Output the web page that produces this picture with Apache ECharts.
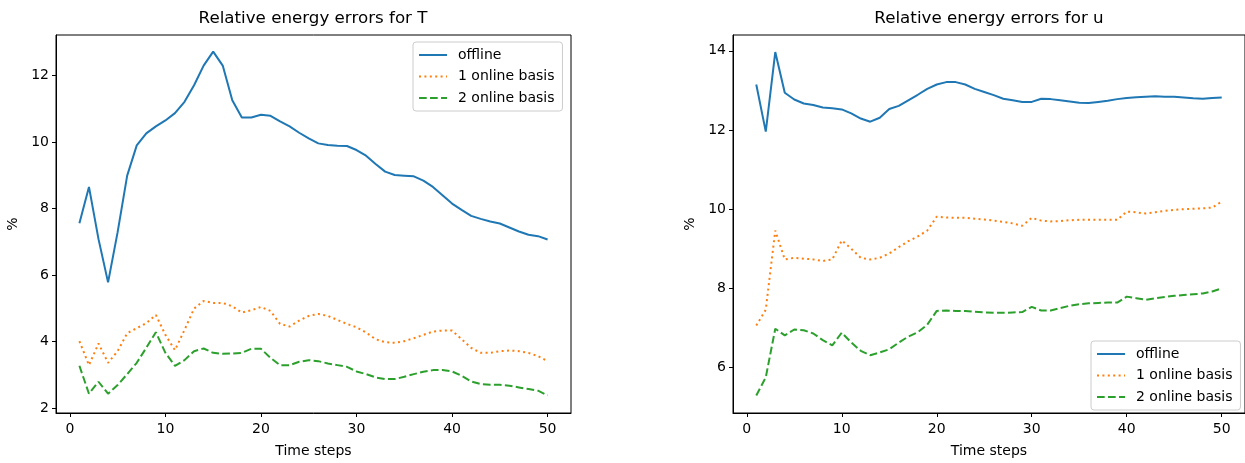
<!DOCTYPE html>
<html>
<head>
<meta charset="utf-8">
<script src="https://cdn.jsdelivr.net/npm/echarts@6/dist/echarts.min.js"></script>
<style>
  html, body { margin: 0; padding: 0; background: #fff; }
  #chart { width: 1245px; height: 463px; }
</style>
</head>
<body>
<div id="chart"></div>
<script>
const steps = [1,2,3,4,5,6,7,8,9,10,11,12,13,14,15,16,17,18,19,20,21,22,23,24,25,26,27,28,29,30,31,32,33,34,35,36,37,38,39,40,41,42,43,44,45,46,47,48,49,50];
const xTicks = [0, 10, 20, 30, 40, 50];
const yTicksT = [2, 4, 6, 8, 10, 12];
const yTicksU = [6, 8, 10, 12, 14];
const seriesNames = ['offline', '1 online basis', '2 online basis'];

const offlineT = [7.56,8.65,7.08,5.78,7.29,8.99,9.90,10.26,10.47,10.65, 10.87,11.21,11.71,12.30,12.72,12.30,11.26,10.74,10.74,10.82, 10.79,10.62,10.47,10.28,10.11,9.96,9.91,9.89,9.88,9.76, 9.59,9.34,9.11,9.01,8.99,8.97,8.84,8.65,8.40,8.15, 7.96,7.78,7.69,7.61,7.55,7.43,7.31,7.21,7.17,7.07];
const online1T = [4.01,3.29,3.94,3.36,3.71,4.25,4.40,4.55,4.80,4.20, 3.74,4.35,4.99,5.22,5.16,5.16,5.06,4.87,4.94,5.04, 4.92,4.53,4.45,4.63,4.77,4.83,4.77,4.65,4.53,4.43, 4.27,4.07,3.98,3.96,4.01,4.10,4.20,4.30,4.33,4.33, 4.07,3.81,3.66,3.66,3.71,3.73,3.71,3.66,3.56,3.41];
const online2T = [3.27,2.43,2.79,2.43,2.69,3.02,3.36,3.81,4.28,3.66, 3.27,3.44,3.71,3.79,3.66,3.63,3.64,3.66,3.78,3.78, 3.51,3.29,3.29,3.39,3.44,3.41,3.34,3.29,3.24,3.10, 3.02,2.92,2.87,2.87,2.94,3.02,3.09,3.14,3.14,3.10, 2.97,2.80,2.72,2.70,2.70,2.67,2.62,2.57,2.52,2.38];

const offlineU = [13.15,11.96,13.97,12.94,12.77,12.67,12.63,12.57,12.55,12.52, 12.42,12.29,12.21,12.31,12.53,12.61,12.75,12.89,13.04,13.15, 13.21,13.21,13.15,13.04,12.96,12.88,12.79,12.75,12.71,12.71, 12.79,12.78,12.75,12.72,12.69,12.68,12.71,12.74,12.78,12.81, 12.83,12.84,12.85,12.84,12.84,12.82,12.80,12.79,12.81,12.82];
const online1U = [7.06,7.46,9.46,8.73,8.77,8.75,8.73,8.69,8.73,9.21, 9.00,8.77,8.73,8.77,8.88,9.04,9.19,9.31,9.46,9.81, 9.79,9.78,9.78,9.76,9.74,9.71,9.68,9.64,9.58,9.78, 9.71,9.69,9.70,9.72,9.73,9.73,9.73,9.73,9.73,9.94, 9.92,9.89,9.92,9.96,9.98,10.00,10.01,10.02,10.04,10.19];
const online2U = [5.29,5.75,6.98,6.81,6.96,6.94,6.86,6.69,6.56,6.88, 6.63,6.42,6.31,6.38,6.46,6.63,6.78,6.89,7.08,7.43, 7.44,7.43,7.43,7.41,7.39,7.38,7.38,7.39,7.40,7.53, 7.44,7.44,7.50,7.56,7.60,7.62,7.63,7.64,7.64,7.79, 7.75,7.71,7.75,7.78,7.81,7.83,7.85,7.87,7.92,8.00];

const FONT = 'DejaVu Sans';
const colors = ['#1f77b4', '#ff7f0e', '#2ca02c'];
const lineTypes = ['solid', [2, 3.4], [7.7, 3.3]];

function pairs(vals) { return steps.map((s, i) => [s, vals[i]]); }

function xAxisCfg(gridIndex) {
  return {
    type: 'value', gridIndex, min: -1.45, max: 52.45,
    name: 'Time steps', nameLocation: 'middle', nameGap: 31,
    nameTextStyle: { fontFamily: FONT, fontSize: 14, color: '#000' },
    axisLine: { show: true, onZero: false, lineStyle: { color: '#000', width: 1 } },
    axisTick: { show: true, inside: false, length: 4, customValues: xTicks, lineStyle: { color: '#000', width: 1 } },
    axisLabel: { customValues: xTicks, margin: 9, fontFamily: FONT, fontSize: 14, color: '#000' },
    splitLine: { show: false }
  };
}
function yAxisCfg(gridIndex, min, max, ticks) {
  return {
    type: 'value', gridIndex, min, max,
    name: '%', nameLocation: 'middle', nameGap: 36, nameRotate: 90,
    nameTextStyle: { fontFamily: FONT, fontSize: 14, color: '#000' },
    axisLine: { show: true, onZero: false, lineStyle: { color: '#000', width: 1 } },
    axisTick: { show: true, inside: false, length: 4, customValues: ticks, lineStyle: { color: '#000', width: 1 } },
    axisLabel: { customValues: ticks, margin: 7, fontFamily: FONT, fontSize: 14, color: '#000' },
    splitLine: { show: false }
  };
}
function mkSeries(name, idx, vals, gridIdx) {
  return {
    name, type: 'line', xAxisIndex: gridIdx, yAxisIndex: gridIdx,
    data: pairs(vals), symbol: 'none', smooth: false, animation: false,
    lineStyle: { color: colors[idx], width: 2, type: lineTypes[idx] },
    itemStyle: { color: colors[idx] }
  };
}
function legendCfg(pos) {
  return Object.assign({
    orient: 'vertical', data: seriesNames,
    itemWidth: 28, itemHeight: 14, itemGap: 7.5,
    padding: [6, 8, 6, 5],
    backgroundColor: 'rgba(255,255,255,0.8)', borderColor: '#cccccc', borderWidth: 1, borderRadius: 3,
    textStyle: { fontFamily: FONT, fontSize: 14, color: '#000', padding: [0, 0, 0, 6] },
    itemStyle: { opacity: 0 },
    selectedMode: false
  }, pos);
}

const chart = echarts.init(document.getElementById('chart'), null, { renderer: 'canvas' });
chart.setOption({
  animation: false,
  backgroundColor: '#ffffff',
  title: [
    { text: 'Relative energy errors for T', left: 313, top: 10, textAlign: 'center', padding: 0,
      textStyle: { fontFamily: FONT, fontSize: 16.7, fontWeight: 'normal', color: '#000' } },
    { text: 'Relative energy errors for u', left: 989, top: 10, textAlign: 'center', padding: 0,
      textStyle: { fontFamily: FONT, fontSize: 16.7, fontWeight: 'normal', color: '#000' } }
  ],
  legend: [
    legendCfg({ left: 413, top: 42 }),
    legendCfg({ left: 1091, top: 341 })
  ],
  grid: [
    { left: 56, top: 35, width: 515, height: 383, show: true, borderColor: '#000', borderWidth: 1, backgroundColor: 'transparent' },
    { left: 733, top: 35, width: 515, height: 383, show: true, borderColor: '#000', borderWidth: 1, backgroundColor: 'transparent' }
  ],
  xAxis: [xAxisCfg(0), xAxisCfg(1)],
  yAxis: [yAxisCfg(0, 1.85, 13.22, yTicksT), yAxisCfg(1, 4.85, 14.40, yTicksU)],
  series: [
    mkSeries(seriesNames[0], 0, offlineT, 0),
    mkSeries(seriesNames[1], 1, online1T, 0),
    mkSeries(seriesNames[2], 2, online2T, 0),
    mkSeries(seriesNames[0], 0, offlineU, 1),
    mkSeries(seriesNames[1], 1, online1U, 1),
    mkSeries(seriesNames[2], 2, online2U, 1)
  ]
});
</script>
</body>
</html>
